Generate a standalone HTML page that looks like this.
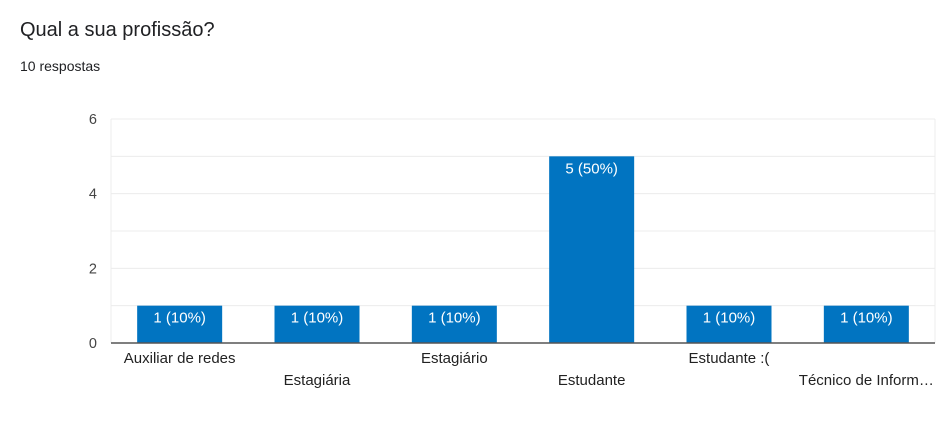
<!DOCTYPE html>
<html><head><meta charset="utf-8"><style>
body{margin:0;background:#fff;width:939px;height:432px;overflow:hidden;font-family:"Liberation Sans",Arial,sans-serif}
#title{position:absolute;left:20px;top:19px;font-size:20px;color:#202124}
#sub{position:absolute;left:20px;top:58px;font-size:14px;color:#202124}
svg{position:absolute;left:0;top:0}
</style></head><body>
<div id="title">Qual a sua profissão?</div>
<div id="sub">10 respostas</div>
<svg id="c" width="939" height="432"></svg>
<script>
const categories=["Auxiliar de redes","Estagiária","Estagiário","Estudante","Estudante :(","Técnico de Inform…"];
const values=[1,1,1,5,1,1];
const valueLabels=["1 (10%)","1 (10%)","1 (10%)","5 (50%)","1 (10%)","1 (10%)"];
const yTicks=[0,2,4,6];
const yMax=6;
const L=111,R=935,T=119,B=343;
const svg=document.getElementById('c');
const ns='http://www.w3.org/2000/svg';
const y=v=>B-(B-T)*v/yMax;
const band=(R-L)/categories.length;
const x=i=>L+band*i;
function mk(t,a){const e=document.createElementNS(ns,t);for(const k in a)e.setAttribute(k,a[k]);svg.appendChild(e);return e;}
for(let v=1;v<=yMax;v++){const g=mk('line',{x1:L,x2:R,y1:y(v),y2:y(v),stroke:'#ececec','stroke-width':1});

}
const vl=mk('line',{x1:L,x2:L,y1:T,y2:B,stroke:'#ececec'});


const rl=mk('line',{x1:R,x2:R,y1:T,y2:B,stroke:'#ececec'});


yTicks.forEach(v=>{const t=mk('text',{x:97,y:y(v)+5,'text-anchor':'end','font-size':14.5,fill:'#444'});t.textContent=v;

});
const bw=85;
values.forEach((v,i)=>{const cx=x(i)+band/2;
const r=mk('rect',{x:cx-bw/2,y:y(v),width:bw,height:B-y(v),fill:'#0174c1'});


const t=mk('text',{x:cx,y:y(v)+17,'text-anchor':'middle','font-size':15,fill:'#fff'});t.textContent=valueLabels[i];


const c=mk('text',{x:cx,y:i%2?385:363,'text-anchor':'middle','font-size':15,fill:'#222'});c.textContent=categories[i];

});
const ax=mk('line',{x1:L,x2:R,y1:B,y2:B,stroke:'#555','stroke-width':1.5});


</script>
</body></html>
